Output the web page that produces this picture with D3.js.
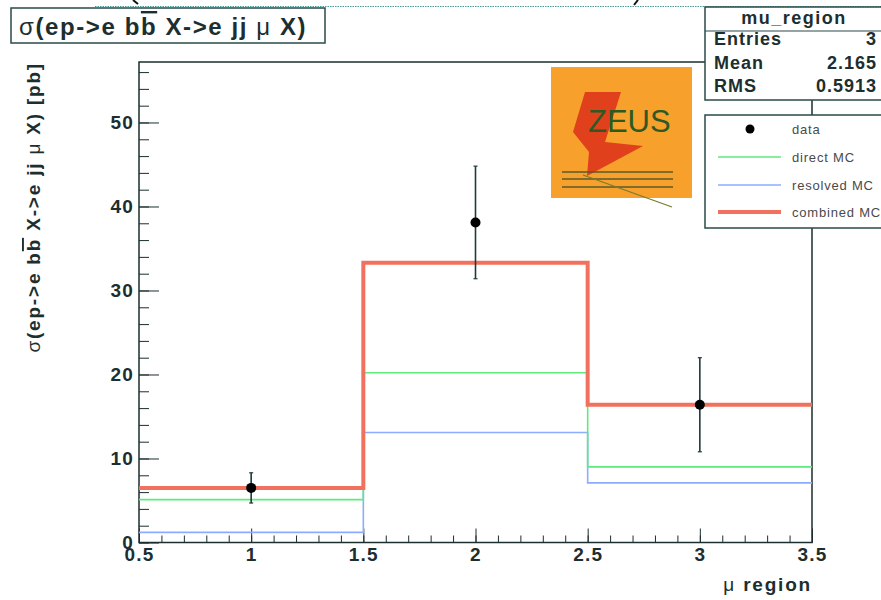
<!DOCTYPE html>
<html>
<head>
<meta charset="utf-8">
<script src="https://cdn.jsdelivr.net/npm/d3@7"></script>
<style>
  body { margin: 0; background: #fff; }
  text { font-family: "Liberation Sans", Arial, sans-serif; }
</style>
</head>
<body>
<div id="graph1"></div>
<script>
// bin edges and contents
var binEdges = [0.5, 1.5, 2.5, 3.5];
var binCenters = [1, 2, 3];
var dataValues = [6.5, 38.1, 16.4];
var dataErrors = [1.8, 6.7, 5.6];
var directMC = [5.1, 20.2, 9.0];
var resolvedMC = [1.2, 13.1, 7.1];
var combinedMC = [6.5, 33.3, 16.4];

var xTicks = [0.5, 1, 1.5, 2, 2.5, 3, 3.5];
var yTicks = [0, 10, 20, 30, 40, 50];

var statNames = ["Entries", "Mean", "RMS"];
var statValues = ["3", "2.165", "0.5913"];

var legendNames = ["data", "direct MC", "resolved MC", "combined MC"];

var W = 881, H = 600;
var frame = {left: 139, right: 812, top: 62, bottom: 542.5};
var ink = "#1c2e2e";

var svg = d3.select("#graph1")
    .append("svg")
    .attr("width", W)
    .attr("height", H);

var x = d3.scaleLinear().domain([0.5, 3.5]).range([frame.left, frame.right]);
var y = d3.scaleLinear().domain([0, 57.2]).range([frame.bottom, frame.top]);

// cut-off pieces at the very top of the canvas
svg.append("line")
    .attr("x1", 95).attr("x2", W).attr("y1", 6.5).attr("y2", 6.5)
    .attr("stroke", "#4a9a9a").attr("stroke-width", 1.2)
    .attr("stroke-dasharray", "1.5,1");
svg.append("path").attr("d", "M133,0 L138,4").attr("stroke", "#111").attr("stroke-width", 2);
svg.append("path").attr("d", "M638,0 L634,5").attr("stroke", "#111").attr("stroke-width", 2);

function styleLabels(g) {
    g.selectAll("line").attr("stroke", ink);
    g.selectAll("text")
        .attr("fill", ink)
        .style("font-size", "19px")
        .style("font-weight", "bold")
        .style("letter-spacing", "1.2px")
        .style("font-family", "'Liberation Sans', Arial, sans-serif");
}

// y axis ticks (ROOT style, pointing inside)
var yMinor = d3.range(0, 57, 2);
svg.append("g")
    .attr("transform", "translate(" + frame.left + ",0)")
    .call(d3.axisLeft(y).tickValues(yMinor).tickSize(-10).tickFormat(""))
    .call(function (g) { g.select(".domain").remove(); })
    .selectAll("line").attr("stroke", ink);
svg.append("g")
    .attr("transform", "translate(" + frame.left + ",0)")
    .call(d3.axisLeft(y).tickValues(yTicks).tickSize(-20).tickPadding(5).tickFormat(d3.format("d")))
    .call(function (g) { g.select(".domain").remove(); })
    .call(styleLabels);

// x axis ticks
var xMinor = d3.range(5, 36).map(function (d) { return d / 10; });
svg.append("g")
    .attr("transform", "translate(0," + frame.bottom + ")")
    .call(d3.axisBottom(x).tickValues(xMinor).tickSize(-7).tickFormat(""))
    .call(function (g) { g.select(".domain").remove(); })
    .selectAll("line").attr("stroke", ink);
svg.append("g")
    .attr("transform", "translate(0," + frame.bottom + ")")
    .call(d3.axisBottom(x).tickValues(xTicks).tickSize(-14).tickPadding(5).tickFormat(d3.format("")))
    .call(function (g) { g.select(".domain").remove(); })
    .call(styleLabels);

// frame
svg.append("rect")
    .attr("x", frame.left).attr("y", frame.top)
    .attr("width", frame.right - frame.left)
    .attr("height", frame.bottom - frame.top)
    .attr("fill", "none")
    .attr("stroke", ink)
    .attr("stroke-width", 1.5);

// ZEUS logo
var logo = svg.append("g");
logo.append("rect")
    .attr("x", 551).attr("y", 67).attr("width", 141).attr("height", 131)
    .attr("fill", "#f8a02c");
logo.append("path")
    .attr("d", "M585,92 L621,92 L605,142 L643,146 L587,176 L589,152 L573,132 Z")
    .attr("fill", "#e0401c");
logo.append("text")
    .attr("x", 588).attr("y", 132)
    .style("font-size", "31px")
    .attr("fill", "#2d5a22")
    .text("ZEUS");
logo.selectAll("line.h")
    .data([172, 179, 187])
    .enter()
    .append("line")
    .attr("x1", 562).attr("x2", 673)
    .attr("y1", function (d) { return d; })
    .attr("y2", function (d) { return d; })
    .attr("stroke", "#5a5a28")
    .attr("stroke-width", 1.3);
logo.append("line")
    .attr("x1", 583).attr("y1", 175).attr("x2", 672).attr("y2", 207)
    .attr("stroke", "#7a7a30").attr("stroke-width", 1.3);

// histograms as steps
var step = d3.line()
    .x(function (d) { return x(d[0]); })
    .y(function (d) { return y(d[1]); })
    .curve(d3.curveStepAfter);

function stepPoints(vals) {
    var pts = vals.map(function (v, i) { return [binEdges[i], v]; });
    pts.push([binEdges[binEdges.length - 1], vals[vals.length - 1]]);
    return pts;
}

var series = [
    {name: "resolved MC", values: resolvedMC, color: "#8cacff", width: 1.6},
    {name: "direct MC", values: directMC, color: "#5eea7c", width: 1.6},
    {name: "combined MC", values: combinedMC, color: "#f2705e", width: 4}
];

svg.selectAll("myLines")
    .data(series)
    .enter()
    .append("path")
    .attr("d", function (d) { return step(stepPoints(d.values)); })
    .attr("stroke", function (d) { return d.color; })
    .attr("stroke-width", function (d) { return d.width; })
    .attr("fill", "none");

// data points with error bars
var pts = binCenters.map(function (c, i) {
    return {x: c, v: dataValues[i], e: dataErrors[i]};
});
var dg = svg.selectAll("myDots").data(pts).enter().append("g");
dg.append("line")
    .attr("x1", function (d) { return x(d.x); })
    .attr("x2", function (d) { return x(d.x); })
    .attr("y1", function (d) { return y(d.v - d.e); })
    .attr("y2", function (d) { return y(d.v + d.e); })
    .attr("stroke", "#1e3a3a").attr("stroke-width", 1.6);
dg.selectAll("cap")
    .data(function (d) { return [d.v - d.e, d.v + d.e].map(function (v) { return {x: d.x, v: v}; }); })
    .enter()
    .append("line")
    .attr("x1", function (d) { return x(d.x) - 2; })
    .attr("x2", function (d) { return x(d.x) + 2; })
    .attr("y1", function (d) { return y(d.v); })
    .attr("y2", function (d) { return y(d.v); })
    .attr("stroke", "#1e3a3a").attr("stroke-width", 1.2);
dg.append("circle")
    .attr("cx", function (d) { return x(d.x); })
    .attr("cy", function (d) { return y(d.v); })
    .attr("r", 5)
    .attr("fill", "#000");

// title box
svg.append("rect")
    .attr("x", 11).attr("y", 8).attr("width", 314).attr("height", 35)
    .attr("fill", "#fff").attr("stroke", "#2a4a4a").attr("stroke-width", 1.5);
var title = svg.append("text")
    .attr("x", 19).attr("y", 35)
    .attr("fill", ink)
    .style("font-size", "24px")
    .style("letter-spacing", "1.6px")
    .style("font-weight", "bold");
title.append("tspan").style("font-weight", "normal").text("σ");
title.append("tspan").text("(ep->e b");
title.append("tspan").style("text-decoration", "overline").text("b");
title.append("tspan").text(" X->e jj ");
title.append("tspan").style("font-weight", "normal").text("μ");
title.append("tspan").text(" X)");

// stats box
var stats = svg.append("g");
stats.append("rect")
    .attr("x", 705).attr("y", 7).attr("width", 190).attr("height", 93)
    .attr("fill", "#fff").attr("stroke", "#2a4a4a").attr("stroke-width", 1.5);
stats.append("line")
    .attr("x1", 705).attr("x2", W).attr("y1", 31).attr("y2", 31)
    .attr("stroke", "#2a4a4a").attr("stroke-width", 1.2);
stats.append("text")
    .attr("x", 794).attr("y", 24)
    .attr("text-anchor", "middle")
    .attr("fill", ink)
    .style("font-size", "18px").style("font-weight", "bold")
    .style("letter-spacing", "1.5px")
    .text("mu_region");
statNames.forEach(function (n, i) {
    stats.append("text")
        .attr("x", 714).attr("y", 45 + i * 23.5)
        .attr("fill", ink)
        .style("font-size", "18px").style("font-weight", "bold")
        .style("letter-spacing", "1px")
        .text(n);
    stats.append("text")
        .attr("x", 877).attr("y", 45 + i * 23.5)
        .attr("text-anchor", "end")
        .attr("fill", ink)
        .style("font-size", "18px").style("font-weight", "bold")
        .style("letter-spacing", "1px")
        .text(statValues[i]);
});

// legend box
var leg = svg.append("g");
leg.append("rect")
    .attr("x", 705).attr("y", 115).attr("width", 190).attr("height", 113)
    .attr("fill", "#fff").attr("stroke", "#2a4a4a").attr("stroke-width", 1.5);
var legY = [129, 157, 185, 212];
leg.append("circle").attr("cx", 750).attr("cy", legY[0]).attr("r", 4.5).attr("fill", "#000");
series.forEach(function (s) {
    var k = legendNames.indexOf(s.name);
    leg.append("line")
        .attr("x1", 718).attr("x2", 781)
        .attr("y1", legY[k]).attr("y2", legY[k])
        .attr("stroke", s.color)
        .attr("stroke-width", s.width);
});
legendNames.forEach(function (n, i) {
    leg.append("text")
        .attr("x", 792).attr("y", legY[i])
        .attr("dominant-baseline", "central")
        .attr("fill", "#4a4a4a")
        .style("font-size", "13px")
        .style("letter-spacing", "0.8px")
        .text(n);
});

// axis titles
var yt = svg.append("text")
    .attr("transform", "translate(40," + frame.top + ") rotate(-90)")
    .attr("text-anchor", "end")
    .attr("fill", ink)
    .style("font-size", "19px")
    .style("letter-spacing", "1.8px")
    .style("font-weight", "bold");
yt.append("tspan").style("font-weight", "normal").text("σ");
yt.append("tspan").text("(ep->e b");
yt.append("tspan").style("text-decoration", "overline").text("b");
yt.append("tspan").text(" X->e jj ");
yt.append("tspan").style("font-weight", "normal").text("μ");
yt.append("tspan").text(" X) [pb]");

var xt = svg.append("text")
    .attr("x", frame.right).attr("y", 591)
    .attr("text-anchor", "end")
    .attr("fill", ink)
    .style("font-size", "19px")
    .style("letter-spacing", "1.8px")
    .style("font-weight", "bold");
xt.append("tspan").style("font-weight", "normal").text("μ");
xt.append("tspan").text(" region");
</script>
</body>
</html>
